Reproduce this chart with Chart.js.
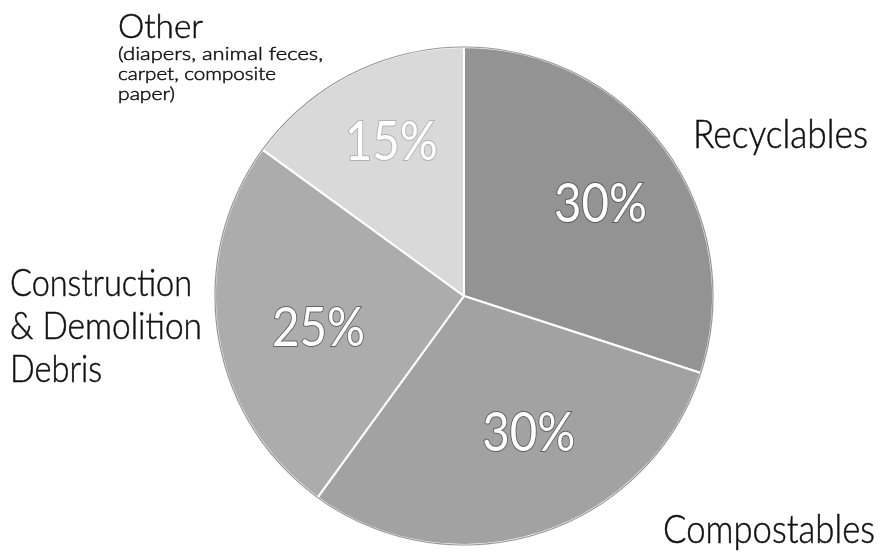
<!DOCTYPE html>
<html>
<head>
<meta charset="utf-8">
<script src="https://cdn.jsdelivr.net/npm/chart.js@4.4.1/dist/chart.umd.min.js"></script>
<style>
    body { margin: 0; background: #fff; }
    #wrap { width: 884px; height: 554px; }
</style>
</head>
<body>
<div id="wrap"><canvas id="wasteChart" width="884" height="554"></canvas></div>
<script>
// waste composition, clockwise from 12 o'clock
const categories = ['Recyclables', 'Compostables', 'Construction & Demolition Debris', 'Other'];
const shares = [30, 30, 25, 15];
const sliceColors = ['#939393', '#a2a2a2', '#acacac', '#d9d9d9'];

// where each percentage sits, as a fraction of the radius from the centre
const pctSpots = [[0.548, -0.368], [0.26, 0.552], [-0.584, 0.132], [-0.292, -0.616]];

// outside captions: text, left x, baseline y, font size, fitted width
const captions = [
    ['Other', 118, 38, 33, 85],
    ['(diapers, animal feces,', 118, 60, 18, 205],
    ['carpet, composite', 118, 80, 18, 158],
    ['paper)', 118, 100, 18, 57],
    ['Recyclables', 693, 148, 40, 175],
    ['Compostables', 663, 543, 40, 212],
    ['Construction', 10, 296, 38, 182],
    ['& Demolition', 10, 339, 38, 192],
    ['Debris', 10, 382, 38, 92]
];

const FONT = 'Lato, "Open Sans", sans-serif';

function fitText(ctx, text, x, y, size, width) {
    ctx.font = `300 ${size}px ${FONT}`;
    const w = ctx.measureText(text).width;
    ctx.save();
    ctx.translate(x, y);
    ctx.scale(width / w, 1);
    ctx.fillText(text, 0, 0);
    // a hair of extra weight, the print face sits between light and regular
    ctx.lineWidth = 0.5;
    ctx.strokeStyle = ctx.fillStyle;
    ctx.strokeText(text, 0, 0);
    ctx.restore();
}

const labelPlugin = {
    id: 'wasteLabels',
    afterDatasetsDraw(chart) {
        const ctx = chart.ctx;
        const arcs = chart.getDatasetMeta(0).data;
        const cx = arcs[0].x, cy = arcs[0].y, r = arcs[0].outerRadius;

        // faint dark rim round the pie
        ctx.save();
        ctx.beginPath();
        ctx.arc(cx, cy, r, 0, Math.PI * 2);
        ctx.strokeStyle = 'rgba(60,60,60,0.55)';
        ctx.lineWidth = 1.2;
        ctx.stroke();
        ctx.restore();

        // percentages, white with a grey outline
        ctx.save();
        ctx.textBaseline = 'middle';
        shares.forEach((v, i) => {
            const txt = v + '%';
            const px = cx + pctSpots[i][0] * r;
            const py = cy + pctSpots[i][1] * r;
            ctx.font = `400 54px ${FONT}`;
            const w = ctx.measureText(txt).width;
            ctx.save();
            ctx.translate(px, py);
            ctx.scale(93 / w, 1);
            ctx.textAlign = 'center';
            ctx.lineWidth = 2;
            ctx.strokeStyle = i === 3 ? 'rgba(150,150,150,0.6)' : 'rgba(70,70,70,0.7)';
            ctx.strokeText(txt, 0, 0);
            ctx.fillStyle = '#ffffff';
            ctx.fillText(txt, 0, 0);
            ctx.restore();
        });
        ctx.restore();

        // captions outside the pie
        ctx.save();
        ctx.fillStyle = '#111111';
        ctx.textAlign = 'left';
        ctx.textBaseline = 'alphabetic';
        captions.forEach(c => fitText(ctx, c[0], c[1], c[2], c[3], c[4]));
        ctx.restore();
    }
};

new Chart(document.getElementById('wasteChart'), {
    type: 'pie',
    data: {
        labels: categories,
        datasets: [{
            data: shares,
            backgroundColor: sliceColors,
            borderColor: '#ffffff',
            borderWidth: 2
        }]
    },
    options: {
        responsive: false,
        animation: false,
        layout: {
            padding: { top: 46, bottom: 8, left: 44, right: 0 }
        },
        plugins: {
            legend: { display: false },
            tooltip: { enabled: false }
        }
    },
    plugins: [labelPlugin]
});
</script>
</body>
</html>
